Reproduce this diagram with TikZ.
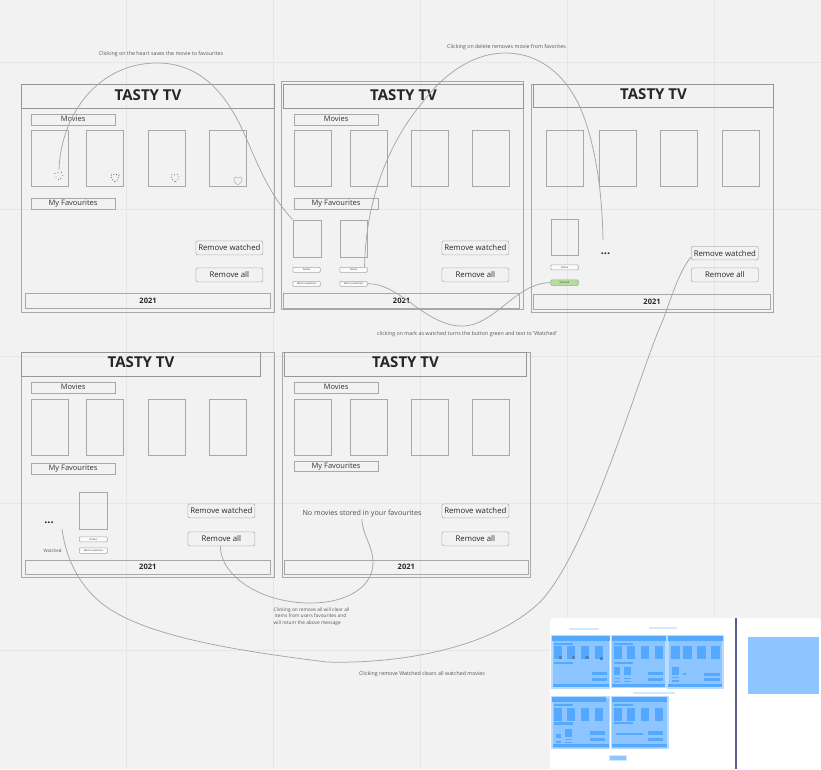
\documentclass[tikz,border=0pt]{standalone}
\usepackage{fontspec}
\setmainfont{Open Sans}
\definecolor{bgc}{HTML}{F2F2F2}
\definecolor{gridc}{HTML}{E6E6E6}
\definecolor{linec}{HTML}{A8A8A8}
\definecolor{headc}{HTML}{979797}
\definecolor{curvec}{HTML}{A6A6A6}
\definecolor{notec}{HTML}{555555}
\definecolor{mapa}{HTML}{8CC5FF}
\definecolor{mapb}{HTML}{54A9FF}
\definecolor{mapc}{HTML}{5A5E8E}
\definecolor{okc}{HTML}{B5DE9C}
\newcommand{\fs}[1]{\fontsize{#1}{#1}\selectfont}
\newcommand{\bx}[7]{%
  \pgfmathsetmacro{\bw}{#3-#1}\pgfmathsetmacro{\bh}{#4-#2}%
  \node[#5,anchor=north west,minimum width=\bw pt,minimum height=\bh pt] (#6) at (#1,#2) {#7};}
\newcommand{\movies}[6]{%
  \bx{#1}{#5}{#1+37}{#5+56}{poster}{#6a}{}
  \bx{#2}{#5}{#2+37}{#5+56}{poster}{#6b}{}
  \bx{#3}{#5}{#3+37}{#5+56}{poster}{#6c}{}
  \bx{#4}{#5}{#4+37}{#5+56}{poster}{#6d}{}}
\newcommand{\hrt}[3]{\draw[#3] (#1,#2+4) .. controls (#1-7,#2-1) and (#1-4,#2-6) .. (#1,#2-3) .. controls (#1+4,#2-6) and (#1+7,#2-1) .. (#1,#2+4);}
\newcommand{\titl}{\raisebox{1.8pt}[\height][0pt]{TASTY TV}}
\newcommand{\uplift}[1]{\raisebox{.8pt}[\height][0pt]{#1}}
\tikzset{
  x=1pt,y=-1pt,
  frameb/.style={draw=linec,line width=1.1pt,inner sep=0pt},
  head/.style={draw=headc,line width=1.1pt,inner sep=0pt,font=\bfseries\fs{15},text=black!85},
  foot/.style={draw=linec,line width=1.1pt,inner sep=0pt,font=\bfseries\fs{7.5},text=black!85},
  lab/.style={draw=linec,line width=1.1pt,inner sep=0pt,font=\fs{7.5},text=black!80},
  poster/.style={draw=linec,line width=1.1pt,inner sep=0pt},
  btn/.style={draw=linec!80,line width=.7pt,rounded corners=2pt,inner sep=0pt,font=\fs{7.8},text=black!85},
  tiny/.style={draw=linec,line width=.6pt,rounded corners=1pt,fill=white!70!bgc,inner sep=0pt,font=\fs{2.4},text=black!80},
  note/.style={inner sep=0pt,font=\fs{5.3},text=notec,align=left},
  curve/.style={draw=curvec,line width=.75pt},
  dots/.style={inner sep=0pt,font=\bfseries\fs{11},text=black!85},
  minif/.style={fill=mapa,draw=mapa!60!white,line width=1.5pt},
  minid/.style={fill=mapb,draw=none},
}
\begin{document}
\begin{tikzpicture}
\useasboundingbox (0,0) rectangle (821,769);
\fill[bgc] (0,0) rectangle (821,769);
\foreach \gx in {126,273,420,567,714} \draw[gridc,line width=.7pt] (\gx,0) -- (\gx,769);
\foreach \gy in {62,209,356,503,650} \draw[gridc,line width=.7pt] (0,\gy) -- (821,\gy);

% Frame 1
\bx{21}{84}{274}{312}{frameb}{fa}{}
\bx{21}{84}{274}{108}{head}{fah}{\titl}
\bx{25}{293}{270}{308}{foot}{faf}{2021}
\bx{30.5}{113.5}{114.5}{124.5}{lab}{fam}{\uplift{Movies}}
\movies{31}{86}{148}{209}{130}{fap}
\bx{30.5}{198}{114.5}{208.5}{lab}{fal}{My Favourites}
\bx{195.5}{240.5}{262.5}{254.5}{btn}{faw}{Remove watched}
\bx{195.5}{267.5}{262.5}{281.5}{btn}{far}{Remove all}
\coordinate (heartone) at (59,170);
\hrt{59}{176}{black!80,line width=.6pt,dash pattern=on .8pt off 3pt}
\hrt{115}{178}{black!80,line width=.6pt,dash pattern=on .8pt off 2pt}
\hrt{175}{178}{black!70,line width=.6pt,dash pattern=on .8pt off 2.2pt}
\hrt{238}{181}{linec!70,line width=.8pt}

% Frame 2
\bx{281}{81}{523}{309}{frameb}{fb}{}
\bx{283}{84}{523}{108}{head}{fbh}{\titl}
\bx{283}{293}{519}{308}{foot}{fbf}{2021}
\bx{293.5}{113.5}{377.5}{124.5}{lab}{fbm}{\uplift{Movies}}
\movies{293.5}{349.5}{411}{472}{130}{fbp}
\bx{293.5}{198}{377.5}{208.5}{lab}{fbl}{My Favourites}
\bx{292.5}{219.5}{320.5}{256.5}{poster}{fbx}{}
\bx{339.5}{219.5}{367}{256.5}{poster}{fby}{}
\bx{292.5}{267}{320}{272}{tiny}{fbd}{Delete}
\bx{339.5}{267}{367}{272}{tiny}{fbe}{Delete}
\bx{292.5}{281}{320}{286}{tiny}{fbg}{Mark as watched}
\bx{339.5}{281}{367}{286}{tiny}{fbi}{Mark as watched}
\bx{441.5}{240.5}{508.5}{254.5}{btn}{fbw}{Remove watched}
\bx{441.5}{267.5}{508.5}{281.5}{btn}{fbr}{Remove all}

% Frame 3
\bx{531}{84}{773}{312}{frameb}{fc}{}
\bx{533}{84}{773}{107}{head}{fch}{\titl}
\bx{533}{294}{770}{308.5}{foot}{fcf}{2021}
\movies{546}{599}{660}{722}{130}{fcp}
\bx{550.5}{218.5}{578}{255}{poster}{fcx}{}
\bx{550.5}{264.5}{578}{269.5}{tiny}{fcd}{Delete}
\bx{550.5}{279.5}{578}{285}{tiny,fill=okc,draw=okc!80!black}{fcg}{Watched}
\node[dots] (fcdots) at (605.5,254) {...};
\coordinate (fcend) at (603,240);
\bx{691}{246}{758}{259.5}{btn}{fcw}{Remove watched}
\bx{691}{267.5}{758}{281.5}{btn}{fcr}{Remove all}

% Frame 4
\bx{21}{352}{273.5}{577}{frameb}{fd}{}
\bx{21}{352}{260}{375.5}{head}{fdh}{\titl}
\bx{24.5}{559.5}{270}{573.5}{foot}{fdf}{2021}
\bx{30.5}{381.5}{114.5}{392.5}{lab}{fdm}{\uplift{Movies}}
\movies{31}{86}{148}{209}{399}{fdp}
\bx{30.5}{463}{114.5}{473.5}{lab}{fdl}{My Favourites}
\bx{78.5}{491.5}{107}{528.5}{poster}{fdx}{}
\bx{79}{536.5}{107}{541.5}{tiny}{fdd}{Delete}
\bx{79}{547.5}{107}{553}{tiny}{fdg}{Mark as watched}
\node[inner sep=0pt,font=\fs{4.4},text=notec] (fdt) at (52.5,550.5) {Watched};
\node[dots] (fddots) at (49,523) {...};
\coordinate (fdstart) at (62,529);
\bx{187.5}{503.5}{254.5}{517.5}{btn}{fdw}{Remove watched}
\bx{187.5}{531.5}{254.5}{545.5}{btn}{fdr}{Remove all}

% Frame 5
\bx{282}{352}{530}{577}{frameb}{fe}{}
\bx{284}{352}{526}{375.5}{head}{feh}{\titl}
\bx{283.5}{559.5}{528}{573.5}{foot}{fef}{2021}
\bx{293.5}{381.5}{377.5}{392.5}{lab}{fem}{\uplift{Movies}}
\movies{293.5}{349.5}{411}{472}{399}{fep}
\bx{293.5}{460.5}{377.5}{471}{lab}{fel}{My Favourites}
\node[inner sep=0pt,font=\fs{7.15},text=black!70] (fet) at (362,513.5) {No movies stored in your favourites};
\coordinate (feend) at (362,519);
\bx{441.5}{503.5}{508.5}{517.5}{btn}{few}{Remove watched}
\bx{441.5}{531.5}{508.5}{545.5}{btn}{fer}{Remove all}

% Notes
\node[note] (na) at (161,54) {Clicking on the heart saves the movie to favourites};
\node[note] (nb) at (506.5,47) {Clicking on delete removes movie from favorites};
\node[note] (nc) at (467,334) {clicking on mark as watched turns the button green and text to 'Watched'};
\node[note,anchor=north west,font=\fontsize{4.8}{6.6}\selectfont] (nd) at (273.5,607.5) {Clicking on remove all will clear all\\\ items from users favourites and\\will return the above message};
\node[note] (ne) at (422,674) {Clicking remove Watched clears all watched movies};

% Connectors
\draw[curve] (heartone) .. controls (61,112) and (100,63) .. (157,63)
  .. controls (205,63) and (230,100) .. (247,140)
  .. controls (262,175) and (272,197) .. (fbx.north west);
\draw[curve] (fbe.north) ++(11,0) .. controls (366,190) and (395,135) .. (422,103)
  .. controls (445,72) and (475,53) .. (505,53)
  .. controls (540,53) and (565,75) .. (580,107)
  .. controls (594,140) and (602,185) .. (fcend);
\draw[curve] (fbi.east) .. controls (400,283) and (425,326) .. (462,326)
  .. controls (495,326) and (515,283) .. (fcg.west);
\draw[curve] (fdstart) .. controls (66,560) and (80,585) .. (100,602)
  .. controls (140,635) and (230,650) .. (327,662)
  .. controls (395,664) and (490,650) .. (540,602)
  .. controls (590,550) and (640,370) .. (663,320)
  .. controls (672,295) and (680,270) .. (fcw.west |- 0,257);
\draw[curve] (fdr.south) ++(-1,0) .. controls (220,575) and (260,603) .. (310,603)
  .. controls (350,603) and (373,585) .. (373,563)
  .. controls (373,545) and (362,535) .. (feend);

% Minimap
\fill[white,rounded corners=3pt] (550,618) rectangle (821,790);
\fill[mapc] (735.2,618) rectangle (737.4,769);
\fill[mapa] (747.5,636.5) rectangle (819,694);
\begin{scope}[shift={(547.2,616.8)},x=.2275pt,y=-.228pt]
  \fill[minif] (21,84) rectangle (274,312);
  \fill[minif] (282,81) rectangle (523,309);
  \fill[minif] (532,84) rectangle (773,312);
  \fill[minif] (21,352) rectangle (273,577);
  \fill[minif] (282,352) rectangle (530,577);
  \foreach \xa/\xb/\ya/\yb in {21/274/84/108,25/270/293/308,31/114/113/124,31/67/130/186,86/123/130/186,148/184/130/186,209/246/130/186,31/114/198/208,195/262/240/254,195/262/267/281,
  283/523/84/108,283/519/293/308,293/377/113/124,293/330/130/186,349/386/130/186,411/447/130/186,472/509/130/186,293/377/198/208,292/320/219/256,339/367/219/256,292/320/267/272,339/367/267/272,292/320/281/286,339/367/281/286,441/508/240/254,441/508/267/281,
  533/773/84/107,533/770/294/308,546/582/130/186,599/635/130/186,660/696/130/186,722/758/130/186,550/578/218/255,550/578/264/269,550/578/279/285,597/612/245/257,691/758/246/259,691/758/267/281,
  21/260/352/375,24/270/559/573,31/114/381/392,31/67/399/455,86/123/399/455,148/184/399/455,209/246/399/455,31/114/463/473,78/107/491/528,79/107/536/541,79/107/547/553,38/60/515/530,38/60/546/555,187/254/503/517,187/254/531/545,
  284/526/352/375,283/528/559/573,293/377/381/392,293/330/399/455,349/386/399/455,411/447/399/455,472/509/399/455,293/377/460/471,303/420/510/517,441/508/503/517,441/508/531/545}
    \fill[minid] (\xa,\ya) rectangle (\xb,\yb);
  \foreach \hx/\hy in {59/176,115/178,175/178,238/181} \fill[mapb!70!black!90] (\hx-7,\hy-5) rectangle (\hx+7,\hy+7);
  \fill[mapa,draw=mapa!40!white,line width=.5pt] (99,52) rectangle (223,56);
  \fill[mapa,draw=mapa!40!white,line width=.5pt] (447,45) rectangle (566,49);
  \fill[mapa,draw=mapa!40!white,line width=.5pt] (377,332) rectangle (557,336);
  \fill[mapa,draw=mapa!40!white,line width=.5pt] (274,607) rectangle (349,628);
\end{scope}
\end{tikzpicture}
\end{document}
